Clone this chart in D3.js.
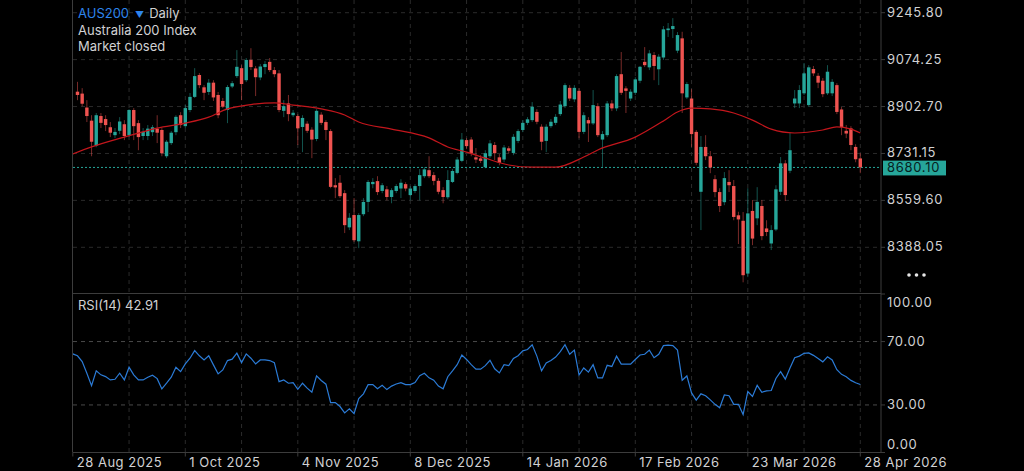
<!DOCTYPE html>
<html>
<head>
<meta charset="utf-8">
<script src="https://cdn.jsdelivr.net/npm/d3@7"></script>
<style>
html, body { margin: 0; padding: 0; background: #000; }
svg { display: block; }
text { font-family: Inter, 'Noto Sans', sans-serif; }
</style>
</head>
<body>
<svg></svg>
<script>
'use strict';

// daily bars, index 0 = 29 Aug 2025 ... index 167 = 28 Apr 2026
var open = [
    8957, 8950, 8899, 8851, 8760, 8868, 8857, 8827, 8798, 8814,
    8838, 8798, 8890, 8842, 8795, 8795, 8809, 8822, 8817, 8721,
    8769, 8809, 8871, 8831, 8890, 8938, 9018, 8973, 8956, 8990,
    8945, 8923, 8890, 8976, 9014, 9043, 8999, 9073, 9042, 9009,
    9047, 9066, 9036, 9024, 8887, 8914, 8871, 8868, 8828, 8840,
    8818, 8784, 8873, 8846, 8813, 8615, 8624, 8586, 8461, 8506,
    8410, 8509, 8554, 8619, 8630, 8594, 8600, 8572, 8594, 8603,
    8619, 8579, 8594, 8612, 8648, 8670, 8652, 8631, 8597, 8571,
    8627, 8660, 8704, 8780, 8782, 8717, 8713, 8681, 8721, 8762,
    8717, 8709, 8750, 8733, 8777, 8817, 8843, 8853, 8883, 8829,
    8777, 8831, 8843, 8875, 8904, 8971, 8929, 8960, 8810, 8853,
    8841, 8904, 8782, 8798, 8914, 8896, 9021, 8969, 8932, 8953,
    8997, 9066, 9046, 9091, 9039, 9082, 9182, 9186, 9107, 9152,
    8936, 8932, 8810, 8591, 8755, 8721, 8637, 8590, 8553, 8627,
    8612, 8505, 8485, 8292, 8521, 8494, 8539, 8457, 8402, 8453,
    8591, 8695, 8668, 8914, 8914, 8951, 8908, 9040, 9015, 8997,
    8951, 8951, 8981, 8892, 8814, 8823, 8755, 8713
];
var high = [
    8993, 8970, 8926, 8871, 8879, 8879, 8871, 8846, 8824, 8864,
    8853, 8893, 8897, 8853, 8824, 8835, 8835, 8871, 8824, 8780,
    8813, 8871, 8882, 8908, 8952, 9043, 9025, 8981, 9003, 8999,
    8956, 8934, 8981, 8996, 9109, 9054, 9080, 9116, 9051, 9058,
    9069, 9080, 9047, 9036, 8926, 8945, 8890, 8875, 8871, 8849,
    8827, 8893, 8882, 8853, 8820, 8641, 8652, 8597, 8513, 8568,
    8513, 8568, 8634, 8641, 8648, 8623, 8612, 8604, 8619, 8637,
    8626, 8612, 8619, 8674, 8681, 8721, 8663, 8641, 8608, 8670,
    8674, 8718, 8806, 8787, 8791, 8751, 8725, 8743, 8780, 8773,
    8729, 8762, 8758, 8802, 8820, 8853, 8864, 8919, 8893, 8838,
    8838, 8857, 8875, 8923, 8988, 8981, 8981, 8970, 8882, 8864,
    8963, 8915, 8813, 8923, 8926, 9021, 9102, 8977, 8966, 9010,
    9051, 9120, 9109, 9102, 9094, 9197, 9208, 9226, 9175, 9176,
    8992, 8966, 8817, 8795, 8798, 8740, 8652, 8604, 8663, 8670,
    8634, 8518, 8517, 8604, 8561, 8608, 8561, 8487, 8469, 8615,
    8718, 8707, 8806, 8963, 8981, 9062, 9054, 9051, 9025, 9007,
    9054, 9003, 8988, 8901, 8835, 8831, 8765, 8732
];
var low = [
    8926, 8904, 8846, 8721, 8754, 8824, 8813, 8791, 8787, 8802,
    8780, 8791, 8780, 8743, 8780, 8780, 8795, 8769, 8721, 8714,
    8762, 8798, 8824, 8824, 8882, 8934, 8970, 8926, 8945, 8923,
    8860, 8897, 8842, 8970, 9007, 8926, 8992, 9036, 8941, 8999,
    9021, 9029, 9010, 8882, 8864, 8849, 8864, 8762, 8736, 8806,
    8714, 8776, 8835, 8780, 8604, 8568, 8568, 8440, 8451, 8407,
    8385, 8502, 8517, 8604, 8579, 8586, 8560, 8549, 8586, 8568,
    8593, 8560, 8586, 8560, 8641, 8641, 8615, 8582, 8549, 8564,
    8623, 8655, 8699, 8747, 8721, 8696, 8696, 8677, 8714, 8707,
    8688, 8699, 8732, 8725, 8769, 8809, 8835, 8846, 8838, 8743,
    8736, 8824, 8835, 8868, 8897, 8923, 8919, 8787, 8802, 8773,
    8835, 8791, 8682, 8791, 8886, 8886, 8945, 8879, 8923, 8945,
    8988, 9047, 9036, 8999, 8981, 9073, 9157, 9153, 9098, 8879,
    8930, 8755, 8688, 8451, 8707, 8659, 8571, 8517, 8542, 8590,
    8487, 8400, 8260, 8279, 8396, 8469, 8414, 8429, 8378, 8447,
    8579, 8557, 8659, 8897, 8897, 8945, 8901, 9014, 8970, 8937,
    8945, 8941, 8875, 8798, 8787, 8743, 8699, 8659
];
var close = [
    8945, 8913, 8868, 8774, 8871, 8843, 8835, 8807, 8810, 8848,
    8795, 8890, 8831, 8791, 8810, 8822, 8827, 8807, 8732, 8774,
    8807, 8865, 8835, 8897, 8938, 9014, 8981, 8953, 8990, 8936,
    8871, 8902, 8974, 8988, 9048, 8985, 9073, 9047, 9010, 9049,
    9058, 9036, 9021, 8890, 8904, 8875, 8880, 8823, 8861, 8814,
    8782, 8887, 8843, 8817, 8609, 8607, 8575, 8469, 8496, 8414,
    8506, 8554, 8627, 8627, 8590, 8615, 8572, 8597, 8612, 8624,
    8603, 8603, 8612, 8652, 8673, 8648, 8631, 8591, 8572, 8634,
    8667, 8709, 8782, 8758, 8731, 8709, 8704, 8732, 8768, 8732,
    8697, 8753, 8741, 8792, 8813, 8843, 8856, 8902, 8847, 8774,
    8829, 8847, 8865, 8910, 8981, 8932, 8971, 8810, 8871, 8841,
    8908, 8798, 8802, 8914, 8896, 9014, 8953, 8960, 8957, 9002,
    9048, 9054, 9097, 9051, 9085, 9185, 9188, 9197, 9164, 8951,
    8985, 8802, 8697, 8755, 8721, 8680, 8590, 8539, 8641, 8615,
    8499, 8490, 8286, 8512, 8420, 8554, 8429, 8444, 8451, 8600,
    8695, 8579, 8743, 8932, 8963, 9024, 9046, 9024, 8990, 8948,
    9030, 8993, 8883, 8828, 8804, 8762, 8710, 8680.1
];

// red moving average, read at a subset of bars
var maBar = [-1, 3, 10, 17, 23, 28, 32, 37, 42, 46, 52, 57, 60, 67, 75, 79, 83, 87, 92,
    97, 102, 108, 111, 119, 125, 128, 131, 135, 140, 144, 148, 153, 159, 162, 165, 167];
var maValue = [8729, 8755, 8791, 8824, 8842, 8864, 8894, 8910, 8916, 8908, 8894, 8872, 8846,
    8820, 8788, 8755, 8736, 8714, 8689, 8681, 8681, 8718, 8744, 8791, 8850, 8883, 8897,
    8894, 8879, 8853, 8820, 8806, 8817, 8828, 8820, 8806];

// RSI(14), first value is bar -1
var rsiStart = -1;
var rsi = [
    62.2,
    61, 57.4, 50, 42.2, 51.5, 49, 47.9, 45.8, 46.2, 50,
    45.8, 53.8, 49, 45.8, 45.8, 47.5, 48.8, 46.6, 40.1, 43.7,
    47.5, 53.8, 51, 55.9, 59.5, 64.3, 61, 58.4, 61, 55.3,
    49.6, 52.1, 58, 58.9, 62.7, 56.7, 62.2, 59.5, 55.9, 58.4,
    58.4, 58, 56.7, 44.7, 45.8, 43.7, 44.1, 39.9, 43.7, 40.6,
    38, 48.3, 45.4, 43.1, 31.5, 31.5, 29, 25, 27.5, 24.5,
    34, 37, 42.8, 42.8, 40.2, 42.4, 39.7, 41.9, 43.2, 44.1,
    42.8, 42.8, 44.1, 48.5, 50, 47.1, 45.6, 41.9, 40.2, 47.8,
    51.5, 55.4, 61.5, 58.7, 55.4, 52.6, 52.6, 54.8, 58.2, 52.8,
    50.2, 55.4, 54.8, 59.3, 61.1, 64.1, 65, 68, 60.8, 51.5,
    56.5, 58.1, 60.2, 63.7, 68, 62, 64.6, 48.9, 53.3, 50.7,
    55.4, 47.1, 47.1, 55, 54.3, 60.8, 55.8, 55.8, 55.8, 58.7,
    61.5, 62, 64.6, 59.8, 62, 67.4, 67.8, 67.4, 64.6, 45.6,
    48.3, 37.6, 33, 37, 35.8, 33.2, 30.4, 28.2, 36.3, 35.8,
    30.4, 30.4, 23.9, 38.5, 35.4, 42.4, 38, 38.9, 39.1, 46.7,
    51, 46.3, 53.3, 59.8, 60.8, 62.6, 62.8, 61.3, 59.3, 57.2,
    60.4, 58.4, 52.2, 49.3, 47.8, 45.5, 44, 42.91
];

var priceTicks = [9245.80, 9074.25, 8902.70, 8731.15, 8559.60, 8388.05];
var rsiTicks = [100, 70, 30, 0];
var rsiBands = [70, 30];
var dateLabels = ['28 Aug 2025', '1 Oct 2025', '4 Nov 2025', '8 Dec 2025',
    '14 Jan 2026', '17 Feb 2026', '23 Mar 2026', '28 Apr 2026'];
var lastPrice = 8680.10;

function render() {
    var w = 1024;
    var h = 471;
    var d3 = window.d3;

    var left = 73, right = 881;
    var priceTop = 0, priceBottom = 293.5;
    var rsiTop = 294, rsiBottom = 452.5;

    var up = '#26a69a';
    var down = '#ef5350';
    var grid = '#2a2a2a';
    var border = '#3c3c3c';
    var label = '#d1d1d3';

    var x = d3.scaleLinear().domain([-1, 167]).range([72.8, 860.3]);
    var y = d3.scaleLinear().domain([8388.05, 9245.8]).range([247.3, 12.7]);
    var yr = d3.scaleLinear().domain([0, 100]).range([rsiBottom, rsiTop]);

    var svg = d3.select('svg').attr('width', w).attr('height', h);
    svg.append('rect').attr('width', w).attr('height', h).attr('fill', '#000');

    var defs = svg.append('defs');
    defs.append('clipPath').attr('id', 'clip-price').append('rect')
        .attr('x', left).attr('y', priceTop).attr('width', right - left).attr('height', priceBottom - priceTop);
    defs.append('clipPath').attr('id', 'clip-rsi').append('rect')
        .attr('x', left).attr('y', rsiTop).attr('width', right - left).attr('height', rsiBottom - rsiTop);

    // vertical grid every 12 bars
    var gridBars = d3.range(11, 168, 12);
    svg.append('g').selectAll('line').data(gridBars).enter().append('line')
        .attr('x1', function (d) { return x(d); }).attr('x2', function (d) { return x(d); })
        .attr('y1', 0).attr('y2', rsiBottom)
        .attr('stroke', grid).attr('stroke-dasharray', '4,4');

    // horizontal price grid
    svg.append('g').selectAll('line').data(priceTicks).enter().append('line')
        .attr('x1', left).attr('x2', right)
        .attr('y1', function (d) { return y(d); }).attr('y2', function (d) { return y(d); })
        .attr('stroke', grid).attr('stroke-dasharray', '4,4');

    // rsi bands
    svg.append('g').selectAll('line').data(rsiBands).enter().append('line')
        .attr('x1', left).attr('x2', right)
        .attr('y1', function (d) { return yr(d); }).attr('y2', function (d) { return yr(d); })
        .attr('stroke', '#4a4a4a').attr('stroke-dasharray', '4,4');

    // borders
    var b = svg.append('g').attr('stroke', border).attr('stroke-width', 1);
    b.append('line').attr('x1', 72.5).attr('x2', 72.5).attr('y1', 0).attr('y2', rsiBottom);
    b.append('line').attr('x1', right).attr('x2', right).attr('y1', 0).attr('y2', rsiBottom);
    b.append('line').attr('x1', left).attr('x2', right).attr('y1', priceBottom).attr('y2', priceBottom);
    b.append('line').attr('x1', left).attr('x2', right).attr('y1', rsiBottom).attr('y2', rsiBottom);

    // last price line
    svg.append('line').attr('x1', left).attr('x2', right)
        .attr('y1', y(lastPrice)).attr('y2', y(lastPrice))
        .attr('stroke', up).attr('stroke-dasharray', '2,2');

    var bars = d3.range(open.length).map(function (i) {
        return { i: i, o: open[i], h: high[i], l: low[i], c: close[i] };
    });

    var g = svg.append('g').attr('clip-path', 'url(#clip-price)');
    var bodyW = 3.4;

    g.selectAll('.wick').data(bars).enter().append('line')
        .attr('class', 'wick')
        .attr('x1', function (d) { return x(d.i); }).attr('x2', function (d) { return x(d.i); })
        .attr('y1', function (d) { return y(d.h); }).attr('y2', function (d) { return y(d.l); })
        .attr('stroke', function (d) { return d.c >= d.o ? up : down; })
        .attr('stroke-opacity', 0.5).attr('stroke-width', 1);

    g.selectAll('.body').data(bars).enter().append('rect')
        .attr('class', 'body')
        .attr('x', function (d) { return x(d.i) - bodyW / 2; })
        .attr('width', bodyW)
        .attr('y', function (d) { return y(Math.max(d.o, d.c)); })
        .attr('height', function (d) { return Math.max(1, Math.abs(y(d.o) - y(d.c))); })
        .attr('fill', function (d) { return d.c >= d.o ? up : down; });

    // moving average
    var maLine = d3.line()
        .x(function (d, k) { return x(maBar[k]); })
        .y(function (d) { return y(d); })
        .curve(d3.curveMonotoneX);
    g.append('path').datum(maValue).attr('d', maLine)
        .attr('fill', 'none').attr('stroke', '#c3161c').attr('stroke-width', 1.2);

    // rsi
    var rsiLine = d3.line()
        .x(function (d, k) { return x(rsiStart + k); })
        .y(function (d) { return yr(d); });
    svg.append('g').attr('clip-path', 'url(#clip-rsi)')
        .append('path').datum(rsi).attr('d', rsiLine)
        .attr('fill', 'none').attr('stroke', '#2b7bd6').attr('stroke-width', 1.2);

    // right axis
    var ax = svg.append('g').attr('font-size', '13px').attr('fill', label).attr('letter-spacing', '0.7px');
    priceTicks.forEach(function (v) {
        ax.append('line').attr('x1', right).attr('x2', right + 4).attr('y1', y(v)).attr('y2', y(v)).attr('stroke', border);
        ax.append('text').attr('x', 887).attr('y', y(v) + 4).text(d3.format('.2f')(v));
    });
    rsiTicks.forEach(function (v) {
        var yy = Math.min(Math.max(yr(v), rsiTop + 8), rsiBottom - 8.5);
        ax.append('line').attr('x1', right).attr('x2', right + 4).attr('y1', yr(v)).attr('y2', yr(v)).attr('stroke', border);
        ax.append('text').attr('x', 887).attr('y', yy + 4.5).text(d3.format('.2f')(v));
    });

    // last price tag
    var ly = y(lastPrice);
    svg.append('rect').attr('x', 883).attr('y', ly - 6.8).attr('width', 63).attr('height', 14.8).attr('fill', up);
    svg.append('text').attr('x', 887).attr('y', ly + 4.5).attr('font-size', '13px')
        .attr('letter-spacing', '0.7px').attr('fill', '#06211e').text(d3.format('.2f')(lastPrice));

    // dots
    svg.append('g').selectAll('circle').data([0, 1, 2]).enter().append('circle')
        .attr('cx', function (d) { return 909 + d * 7.5; }).attr('cy', 275).attr('r', 1.8).attr('fill', '#e6e6e6');

    // date axis
    var dx = svg.append('g').attr('font-size', '13px').attr('fill', label).attr('letter-spacing', '0.5px');
    dateLabels.forEach(function (t, k) {
        var bar = -1 + k * 24;
        dx.append('line').attr('x1', x(bar)).attr('x2', x(bar)).attr('y1', rsiBottom).attr('y2', rsiBottom + 4).attr('stroke', border);
        dx.append('text').attr('x', x(bar) + 4).attr('y', 467).text(t);
    });

    // header
    var hd = svg.append('g').attr('font-size', '13px').attr('fill', label);
    var t1 = hd.append('text').attr('x', 78).attr('y', 18);
    t1.append('tspan').attr('fill', '#2d84ec').text('AUS200');
    t1.append('tspan').attr('fill', '#2d84ec').attr('font-size', '9px').attr('dx', 6).text('▼');
    t1.append('tspan').attr('dx', 5).text('Daily');
    hd.append('text').attr('x', 78).attr('y', 35).text('Australia 200 Index');
    hd.append('text').attr('x', 78).attr('y', 51).text('Market closed');

    svg.append('text').attr('x', 78).attr('y', 310).attr('font-size', '13px').attr('fill', label)
        .text('RSI(14) ' + d3.format('.2f')(rsi[rsi.length - 1]));
}

render();
</script>
</body>
</html>
